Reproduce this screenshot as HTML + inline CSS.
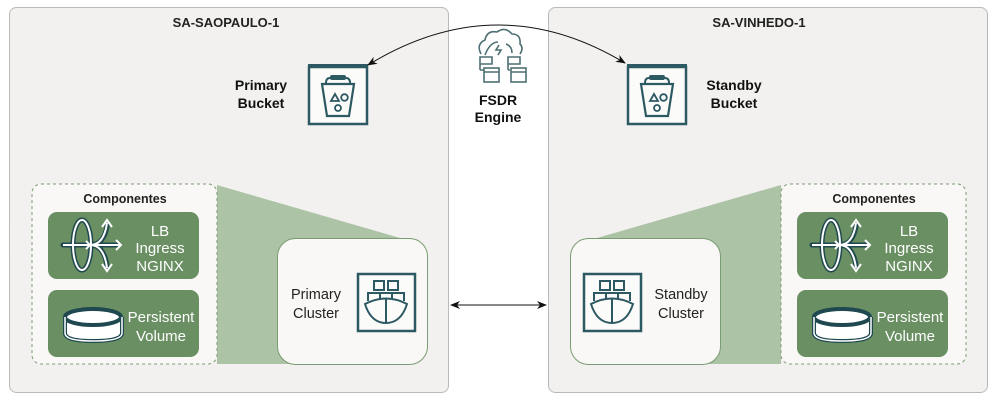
<!DOCTYPE html>
<html><head><meta charset="utf-8"><style>
html,body{margin:0;padding:0;background:#fff;}
svg{display:block;font-family:"Liberation Sans",sans-serif;}
.b{font-weight:bold;}
</style></head><body>
<svg width="998" height="401" viewBox="0 0 998 401" xmlns="http://www.w3.org/2000/svg">
<defs>
<marker id="ah" markerWidth="10" markerHeight="8" refX="9" refY="4" orient="auto" markerUnits="userSpaceOnUse">
<path d="M0,0 L10,4 L0,8 L3,4 Z" fill="#111"/></marker>
<marker id="ahs" markerWidth="10" markerHeight="8" refX="1" refY="4" orient="auto" markerUnits="userSpaceOnUse">
<path d="M10,0 L0,4 L10,8 L7,4 Z" fill="#111"/></marker>
<g id="bucket">
<rect x="1" y="3" width="58" height="57" fill="#fbfbfa" stroke="#2d5963" stroke-width="2.5"/>
<rect x="0" y="0" width="60" height="4" fill="#2d5963"/>
<rect x="22" y="11" width="16" height="5" rx="2" fill="#2d5963"/>
<path d="M22,14 Q18,14 18,19 M38,14 Q42,14 42,19" stroke="#2d5963" stroke-width="2" fill="none"/>
<path d="M14,20 H46 L41,52 H19 Z" fill="none" stroke="#2d5963" stroke-width="2.2"/>
<path d="M23,37 L27,30 L31,37 Z" fill="none" stroke="#2d5963" stroke-width="1.8"/>
<circle cx="36.5" cy="33.5" r="3.3" fill="none" stroke="#2d5963" stroke-width="1.8"/>
<circle cx="30" cy="44" r="3" fill="none" stroke="#2d5963" stroke-width="1.8"/>
</g>
<g id="ship">
<rect x="1" y="1" width="57" height="57" fill="#fbfbfa" stroke="#2d5963" stroke-width="2.5"/>
<rect x="17" y="8" width="10" height="9" fill="none" stroke="#2d5963" stroke-width="2"/>
<rect x="31" y="8" width="10" height="9" fill="none" stroke="#2d5963" stroke-width="2"/>
<path d="M11,28 V20 H23 V26 M23,20 H35 V26 M35,20 H47 V28" fill="none" stroke="#2d5963" stroke-width="2"/>
<path d="M8,31 Q29,20 50,31 Q44,50 29,50 Q14,50 8,31 Z M29,25 V50" fill="none" stroke="#2d5963" stroke-width="2"/>
</g>
<g id="comp">
<rect x="0" y="0" width="185" height="180" rx="9" fill="#f9f8f6" stroke="#7a9c72" stroke-width="1" stroke-dasharray="3,3"/>
<text x="93" y="19" text-anchor="middle" font-size="12.5" class="b" fill="#222">Componentes</text>
<rect x="16" y="28" width="151" height="67" rx="9" fill="#698f62"/>
<rect x="16" y="106" width="151" height="67" rx="9" fill="#698f62"/>
<g stroke="#1f4850" stroke-width="5" fill="none" stroke-linecap="round">
<ellipse cx="50" cy="61" rx="9" ry="25"/>
<path d="M31,61 H58 M58,61 Q72,61 75,42 M58,61 H86 M58,61 Q72,61 75,82"/>
</g>
<g stroke="#fff" stroke-width="2" fill="none">
<ellipse cx="50" cy="61" rx="9" ry="25"/>
<path d="M31,61 H58 M54,57 L58,61 L54,65 M58,61 Q72,61 75,39 M70,43 L75,36 L80,43 M58,61 H88 M84,56 L89,61 L84,66 M58,61 Q72,61 75,84 M70,80 L75,87 L80,80"/>
</g>
<g>
<path d="M33,133 V149 Q33,157 61,157 Q90,157 90,149 V133" fill="#fff" stroke="#1f4850" stroke-width="4"/>
<ellipse cx="61" cy="133" rx="28" ry="8" fill="#fff" stroke="#1f4850" stroke-width="4"/>
<path d="M33,133 V149 Q33,157 61,157 Q90,157 90,149 V133" fill="none" stroke="#fff" stroke-width="1.5"/>
</g>
<g fill="#fff" font-size="15" text-anchor="middle">
<text x="128" y="52">LB</text><text x="128" y="69">Ingress</text><text x="128" y="87">NGINX</text>
<text x="129" y="138">Persistent</text><text x="129" y="157">Volume</text>
</g>
</g>
</defs>

<rect x="9.5" y="7.5" width="439" height="385" rx="7" fill="#f2f1ef" stroke="#b9b9b9"/>
<rect x="548.5" y="7.5" width="439" height="385" rx="7" fill="#f2f1ef" stroke="#b9b9b9"/>
<text x="226" y="27" text-anchor="middle" font-size="13" class="b" fill="#222">SA-SAOPAULO-1</text>
<text x="759" y="27" text-anchor="middle" font-size="13" class="b" fill="#222">SA-VINHEDO-1</text>

<polygon points="217,185 400,238 400,364 217,364" fill="#acc3a6"/>
<polygon points="781,185 597,238 597,364 781,364" fill="#acc3a6"/>

<use href="#comp" x="32" y="184"/>
<use href="#comp" x="781" y="184"/>

<rect x="277.5" y="238.5" width="150" height="126" rx="18" fill="#f9f8f6" stroke="#7a9c72"/>
<rect x="570.5" y="238.5" width="150" height="126" rx="18" fill="#f9f8f6" stroke="#7a9c72"/>
<use href="#ship" x="357" y="273"/>
<use href="#ship" x="583" y="273"/>
<g font-size="14.5" text-anchor="middle" fill="#222">
<text x="316" y="299">Primary</text><text x="316" y="318">Cluster</text>
<text x="681" y="299">Standby</text><text x="681" y="318">Cluster</text>
</g>

<use href="#bucket" x="308" y="64"/>
<use href="#bucket" x="627" y="64"/>
<g font-size="14" class="b" text-anchor="middle" fill="#111">
<text x="261" y="90">Primary</text><text x="261" y="108">Bucket</text>
<text x="734" y="90">Standby</text><text x="734" y="108">Bucket</text>
<text x="498" y="105">FSDR</text><text x="498" y="122">Engine</text>
</g>

<g stroke="#4d6f73" stroke-width="1.6" fill="none">
<path d="M481,54 Q476,44 485,40 Q487,30 497,32 Q505,26 512,34 Q521,34 520,44 Q524,48 520,54"/>
<path d="M485,55 Q490,42 498,42 M506,44 Q512,46 512,53"/>
<path d="M499,45 L496,50 L501,50 L498,55" />
<path d="M480,57 H492 V64 H480 Z M480,64 V70 M480,70 H484"/>
<path d="M508,57 H520 V64 H508 Z M508,64 V70 M508,70 H510"/>
<rect x="484" y="68" width="15" height="14"/>
<rect x="511" y="68" width="15" height="14"/>
<path d="M484,72 H499 M511,72 H526"/>
</g>

<path d="M625,63 Q497,-14 368,65" fill="none" stroke="#111" stroke-width="1" marker-start="url(#ahs)" marker-end="url(#ah)"/>
<path d="M451,305 H546" stroke="#111" stroke-width="1" marker-start="url(#ahs)" marker-end="url(#ah)"/>
</svg>
</body></html>
